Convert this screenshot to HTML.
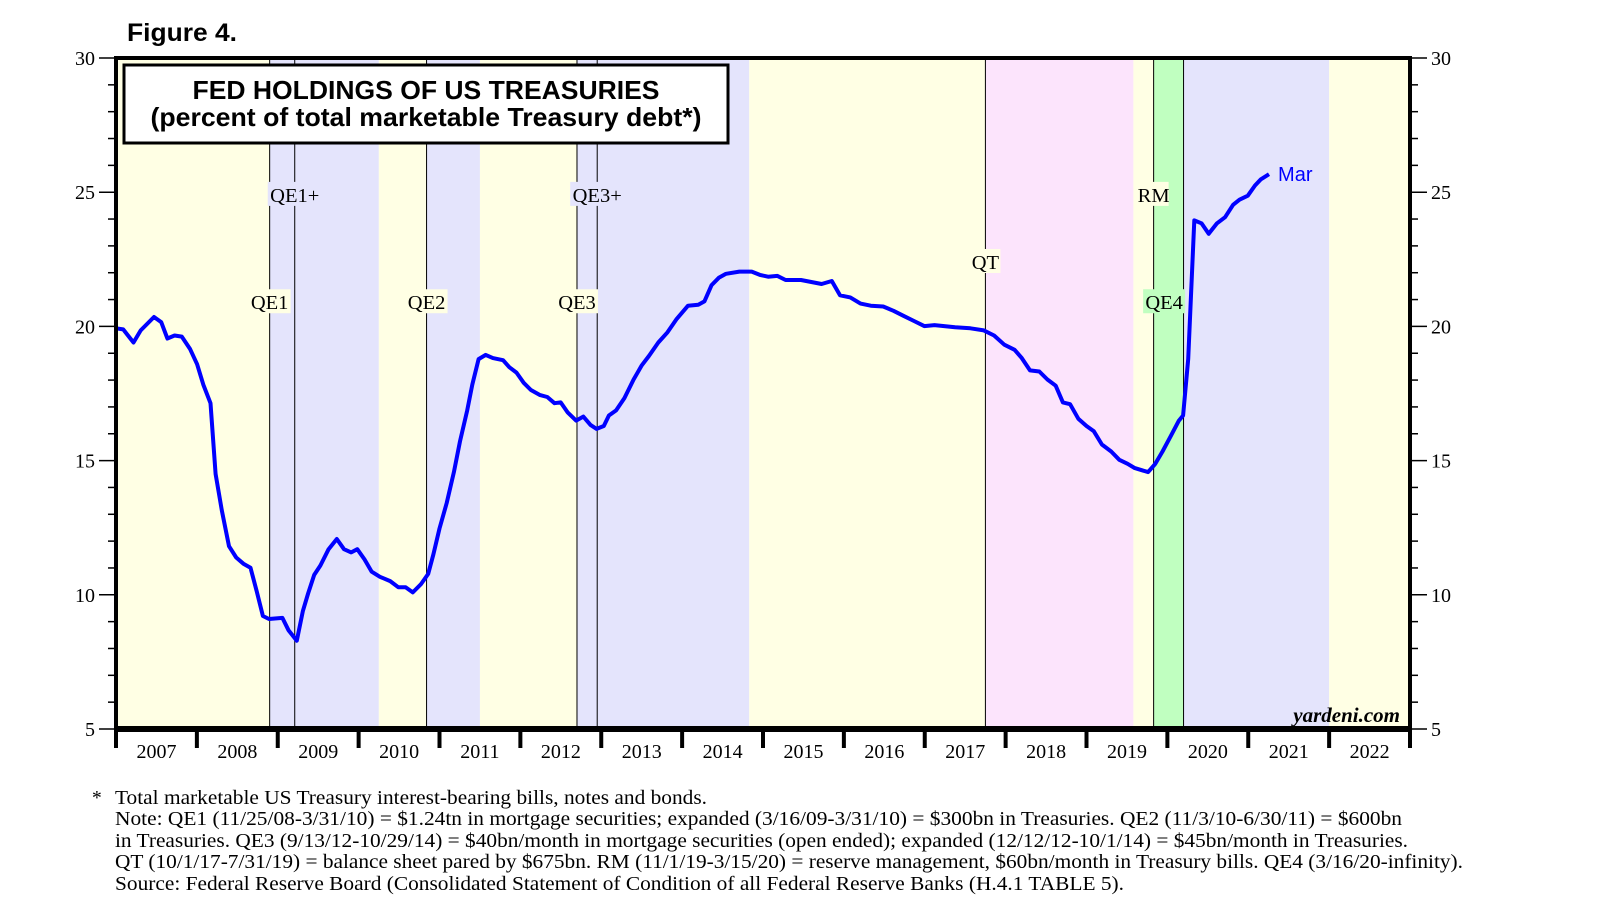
<!DOCTYPE html>
<html><head><meta charset="utf-8">
<style>
html,body{margin:0;padding:0;background:#fff;}
svg{display:block;}
.serif{font-family:"Liberation Serif","DejaVu Serif",serif;}
.sans{font-family:"Liberation Sans","DejaVu Sans",sans-serif;}
</style></head>
<body>
<svg id="chart" width="1610" height="910" viewBox="0 0 1610 910" xmlns="http://www.w3.org/2000/svg">
  <text class="sans" x="127" y="41" font-size="25" font-weight="bold" textLength="110" lengthAdjust="spacingAndGlyphs">Figure 4.</text>
  <g id="bands"></g>
  <g id="events"></g>
  <g id="series"></g>
  <g id="axes"></g>
  <g>
    <rect x="124" y="65" width="604" height="78" fill="#fff" stroke="#000" stroke-width="3"/>
    <text class="sans" x="426" y="99" font-size="26" font-weight="bold" text-anchor="middle" textLength="467" lengthAdjust="spacingAndGlyphs">FED HOLDINGS OF US TREASURIES</text>
    <text class="sans" x="426" y="126" font-size="26" font-weight="bold" text-anchor="middle" textLength="551" lengthAdjust="spacingAndGlyphs">(percent of total marketable Treasury debt*)</text>
  </g>
  <text class="serif" x="1400" y="722" font-size="21" font-weight="bold" font-style="italic" text-anchor="end">yardeni.com</text>
  <g class="serif" font-size="19.5">
    <text x="92" y="804">*</text>
    <text x="115" y="804" textLength="592" lengthAdjust="spacingAndGlyphs">Total marketable US Treasury interest-bearing bills, notes and bonds.</text>
    <text x="115" y="825" textLength="1287" lengthAdjust="spacingAndGlyphs">Note: QE1 (11/25/08-3/31/10) = $1.24tn in mortgage securities; expanded (3/16/09-3/31/10) = $300bn in Treasuries. QE2 (11/3/10-6/30/11) = $600bn</text>
    <text x="115" y="847" textLength="1293" lengthAdjust="spacingAndGlyphs">in Treasuries. QE3 (9/13/12-10/29/14) = $40bn/month in mortgage securities (open ended); expanded (12/12/12-10/1/14) = $45bn/month in Treasuries.</text>
    <text x="115" y="868" textLength="1348" lengthAdjust="spacingAndGlyphs">QT (10/1/17-7/31/19) = balance sheet pared by $675bn. RM (11/1/19-3/15/20) = reserve management, $60bn/month in Treasury bills. QE4 (3/16/20-infinity).</text>
    <text x="115" y="890" textLength="1009" lengthAdjust="spacingAndGlyphs">Source: Federal Reserve Board (Consolidated Statement of Condition of all Federal Reserve Banks (H.4.1 TABLE 5).</text>
  </g>
</svg>
<script>
const years = [2007,2008,2009,2010,2011,2012,2013,2014,2015,2016,2017,2018,2019,2020,2021,2022];
const yTicks = [5,10,15,20,25,30];
const bandStarts = [2007.0,2008.9,2010.25,2010.84,2011.5,2012.7,2014.83,2017.75,2019.58,2019.83,2020.2,2022.0];
const bandEnds   = [2008.9,2010.25,2010.84,2011.5,2012.7,2014.83,2017.75,2019.58,2019.83,2020.2,2022.0,2023.0];
const bandColors = ['#FFFFE4','#E4E4FC','#FFFFE4','#E4E4FC','#FFFFE4','#E4E4FC','#FFFFE4','#FCE4FC','#FFFFE4','#C0FFC0','#E4E4FC','#FFFFE4'];
const eventDates = [2008.9,2009.21,2010.84,2012.7,2012.95,2017.75,2019.83,2020.2];
const labelNames = ['QE1','QE1+','QE2','QE3','QE3+','QT','RM','QE4'];
const labelDates = [2008.9,2009.21,2010.84,2012.7,2012.95,2017.75,2019.83,2019.96];
const labelLevels = [20.9,24.9,20.9,20.9,24.9,22.4,24.9,20.9];
const labelBgs = ['#FFFFE4','#E4E4FC','#FFFFE4','#FFFFE4','#E4E4FC','#FFFFE4','#FFFFE4','#C0FFC0'];
const dates = [2007.0,2007.089,2007.216,2007.305,2007.47,2007.559,2007.635,2007.724,2007.813,2007.914,2008.003,2008.079,2008.168,2008.232,2008.308,2008.397,2008.486,2008.575,2008.663,2008.74,2008.816,2008.892,2009.057,2009.133,2009.235,2009.311,2009.375,2009.451,2009.527,2009.629,2009.73,2009.819,2009.908,2009.984,2010.073,2010.162,2010.263,2010.39,2010.492,2010.581,2010.67,2010.771,2010.86,2010.924,2011.0,2011.089,2011.178,2011.254,2011.343,2011.406,2011.483,2011.571,2011.66,2011.787,2011.863,2011.952,2012.041,2012.13,2012.244,2012.333,2012.422,2012.498,2012.587,2012.689,2012.778,2012.867,2012.943,2013.032,2013.095,2013.184,2013.286,2013.4,2013.502,2013.59,2013.705,2013.819,2013.933,2014.073,2014.2,2014.276,2014.365,2014.454,2014.543,2014.708,2014.86,2014.962,2015.063,2015.178,2015.279,2015.47,2015.724,2015.851,2015.952,2016.079,2016.206,2016.333,2016.486,2016.613,2016.74,2016.867,2016.994,2017.121,2017.375,2017.565,2017.73,2017.857,2017.984,2018.111,2018.2,2018.302,2018.416,2018.517,2018.619,2018.708,2018.797,2018.898,2019.0,2019.089,2019.19,2019.305,2019.406,2019.508,2019.597,2019.762,2019.851,2019.94,2020.041,2020.143,2020.194,2020.257,2020.333,2020.422,2020.511,2020.613,2020.714,2020.813,2020.892,2020.994,2021.083,2021.156,2021.257];
const values = [19.93,19.89,19.4,19.85,20.35,20.16,19.55,19.66,19.62,19.17,18.59,17.83,17.14,14.5,13.15,11.81,11.39,11.16,11.01,10.13,9.21,9.1,9.14,8.68,8.29,9.4,10.05,10.74,11.09,11.7,12.08,11.7,11.58,11.7,11.32,10.86,10.67,10.51,10.28,10.28,10.09,10.4,10.78,11.51,12.47,13.42,14.57,15.72,16.87,17.83,18.78,18.94,18.82,18.74,18.48,18.28,17.9,17.63,17.44,17.37,17.14,17.17,16.79,16.49,16.64,16.33,16.18,16.29,16.68,16.87,17.33,18.02,18.55,18.9,19.4,19.78,20.28,20.77,20.81,20.93,21.54,21.81,21.96,22.04,22.04,21.92,21.85,21.88,21.73,21.73,21.58,21.69,21.16,21.08,20.85,20.77,20.74,20.58,20.39,20.2,20.01,20.05,19.97,19.93,19.85,19.66,19.32,19.13,18.82,18.36,18.32,18.02,17.79,17.17,17.1,16.56,16.29,16.1,15.6,15.34,15.03,14.88,14.72,14.57,14.88,15.34,15.91,16.49,16.68,18.78,23.95,23.84,23.45,23.84,24.07,24.53,24.72,24.87,25.25,25.48,25.67];

const NS='http://www.w3.org/2000/svg';
const L=116, R=1410, T=58, B=729;
const X0=2007, X1=2023, Y0=5, Y1=30;
function xs(v){return L+(v-X0)/(X1-X0)*(R-L);}
function ys(v){return B-(v-Y0)/(Y1-Y0)*(B-T);}
function mk(tag,attrs,parent){const e=document.createElementNS(NS,tag);for(const k in attrs)e.setAttribute(k,attrs[k]);parent.appendChild(e);return e;}

const gB=document.getElementById('bands');
for(let i=0;i<bandStarts.length;i++){
  const r=mk('rect',{x:xs(bandStarts[i]),y:T,width:xs(bandEnds[i])-xs(bandStarts[i]),height:B-T,fill:bandColors[i]},gB);
  
  
}
const gE=document.getElementById('events');
for(let i=0;i<eventDates.length;i++){
  const l=mk('line',{x1:xs(eventDates[i]),x2:xs(eventDates[i]),y1:T,y2:B,stroke:'#000','stroke-width':1},gE);
  
  
}
for(let i=0;i<labelNames.length;i++){
  const cx=xs(labelDates[i]), cy=ys(labelLevels[i]);
  const w=labelNames[i].length*12+6;
  const bg=mk('rect',{x:cx-w/2,y:cy-13,width:w,height:24,fill:labelBgs[i]},gE);
  
  
  const t=mk('text',{x:cx,y:cy+7,'text-anchor':'middle','font-size':20.5,'class':'serif'},gE);
  t.textContent=labelNames[i];
  
  
}
const gS=document.getElementById('series');
let d='';
for(let i=0;i<dates.length;i++){d+=(i?'L':'M')+xs(dates[i]).toFixed(1)+','+ys(values[i]).toFixed(1);}
const p=mk('path',{d:d,fill:'none',stroke:'#0000FF','stroke-width':4,'stroke-linejoin':'round'},gS);


const last=dates.length-1;
const ml=mk('text',{x:xs(dates[last])+9,y:ys(values[last])+7,'font-size':20,fill:'#0000FF','class':'sans'},gS);
ml.textContent='Mar';



const gA=document.getElementById('axes');
const fr=mk('rect',{x:L,y:T,width:R-L,height:B-T,fill:'none',stroke:'#000','stroke-width':4},gA);


const bx=mk('line',{x1:L-2,x2:R+2,y1:B,y2:B,stroke:'#000','stroke-width':6},gA);


for(let v=Y0;v<=Y1;v++){
  const major=(v%5===0);
  const tl=mk('line',{x1:L-(major?17:8),x2:L,y1:ys(v),y2:ys(v),stroke:'#000','stroke-width':1.5},gA);
  
  
  const tr=mk('line',{x1:R,x2:R+(major?17:8),y1:ys(v),y2:ys(v),stroke:'#000','stroke-width':1.5},gA);
  
  
}
for(let i=0;i<yTicks.length;i++){
  const a=mk('text',{x:L-21,y:ys(yTicks[i])+7,'text-anchor':'end','font-size':20,'class':'serif'},gA);
  a.textContent=String(yTicks[i]);
  
  
  const b=mk('text',{x:R+21,y:ys(yTicks[i])+7,'text-anchor':'start','font-size':20,'class':'serif'},gA);
  b.textContent=String(yTicks[i]);
  
  
}
for(let i=0;i<=years.length;i++){
  const yr=X0+i;
  const tk=mk('line',{x1:xs(yr),x2:xs(yr),y1:B,y2:B+19,stroke:'#000','stroke-width':4},gA);
  
  
}
for(let i=0;i<years.length;i++){
  const t=mk('text',{x:xs(years[i]+0.5),y:B+29,'text-anchor':'middle','font-size':20,'class':'serif'},gA);
  t.textContent=String(years[i]);
  
  
}
</script>
</body></html>
